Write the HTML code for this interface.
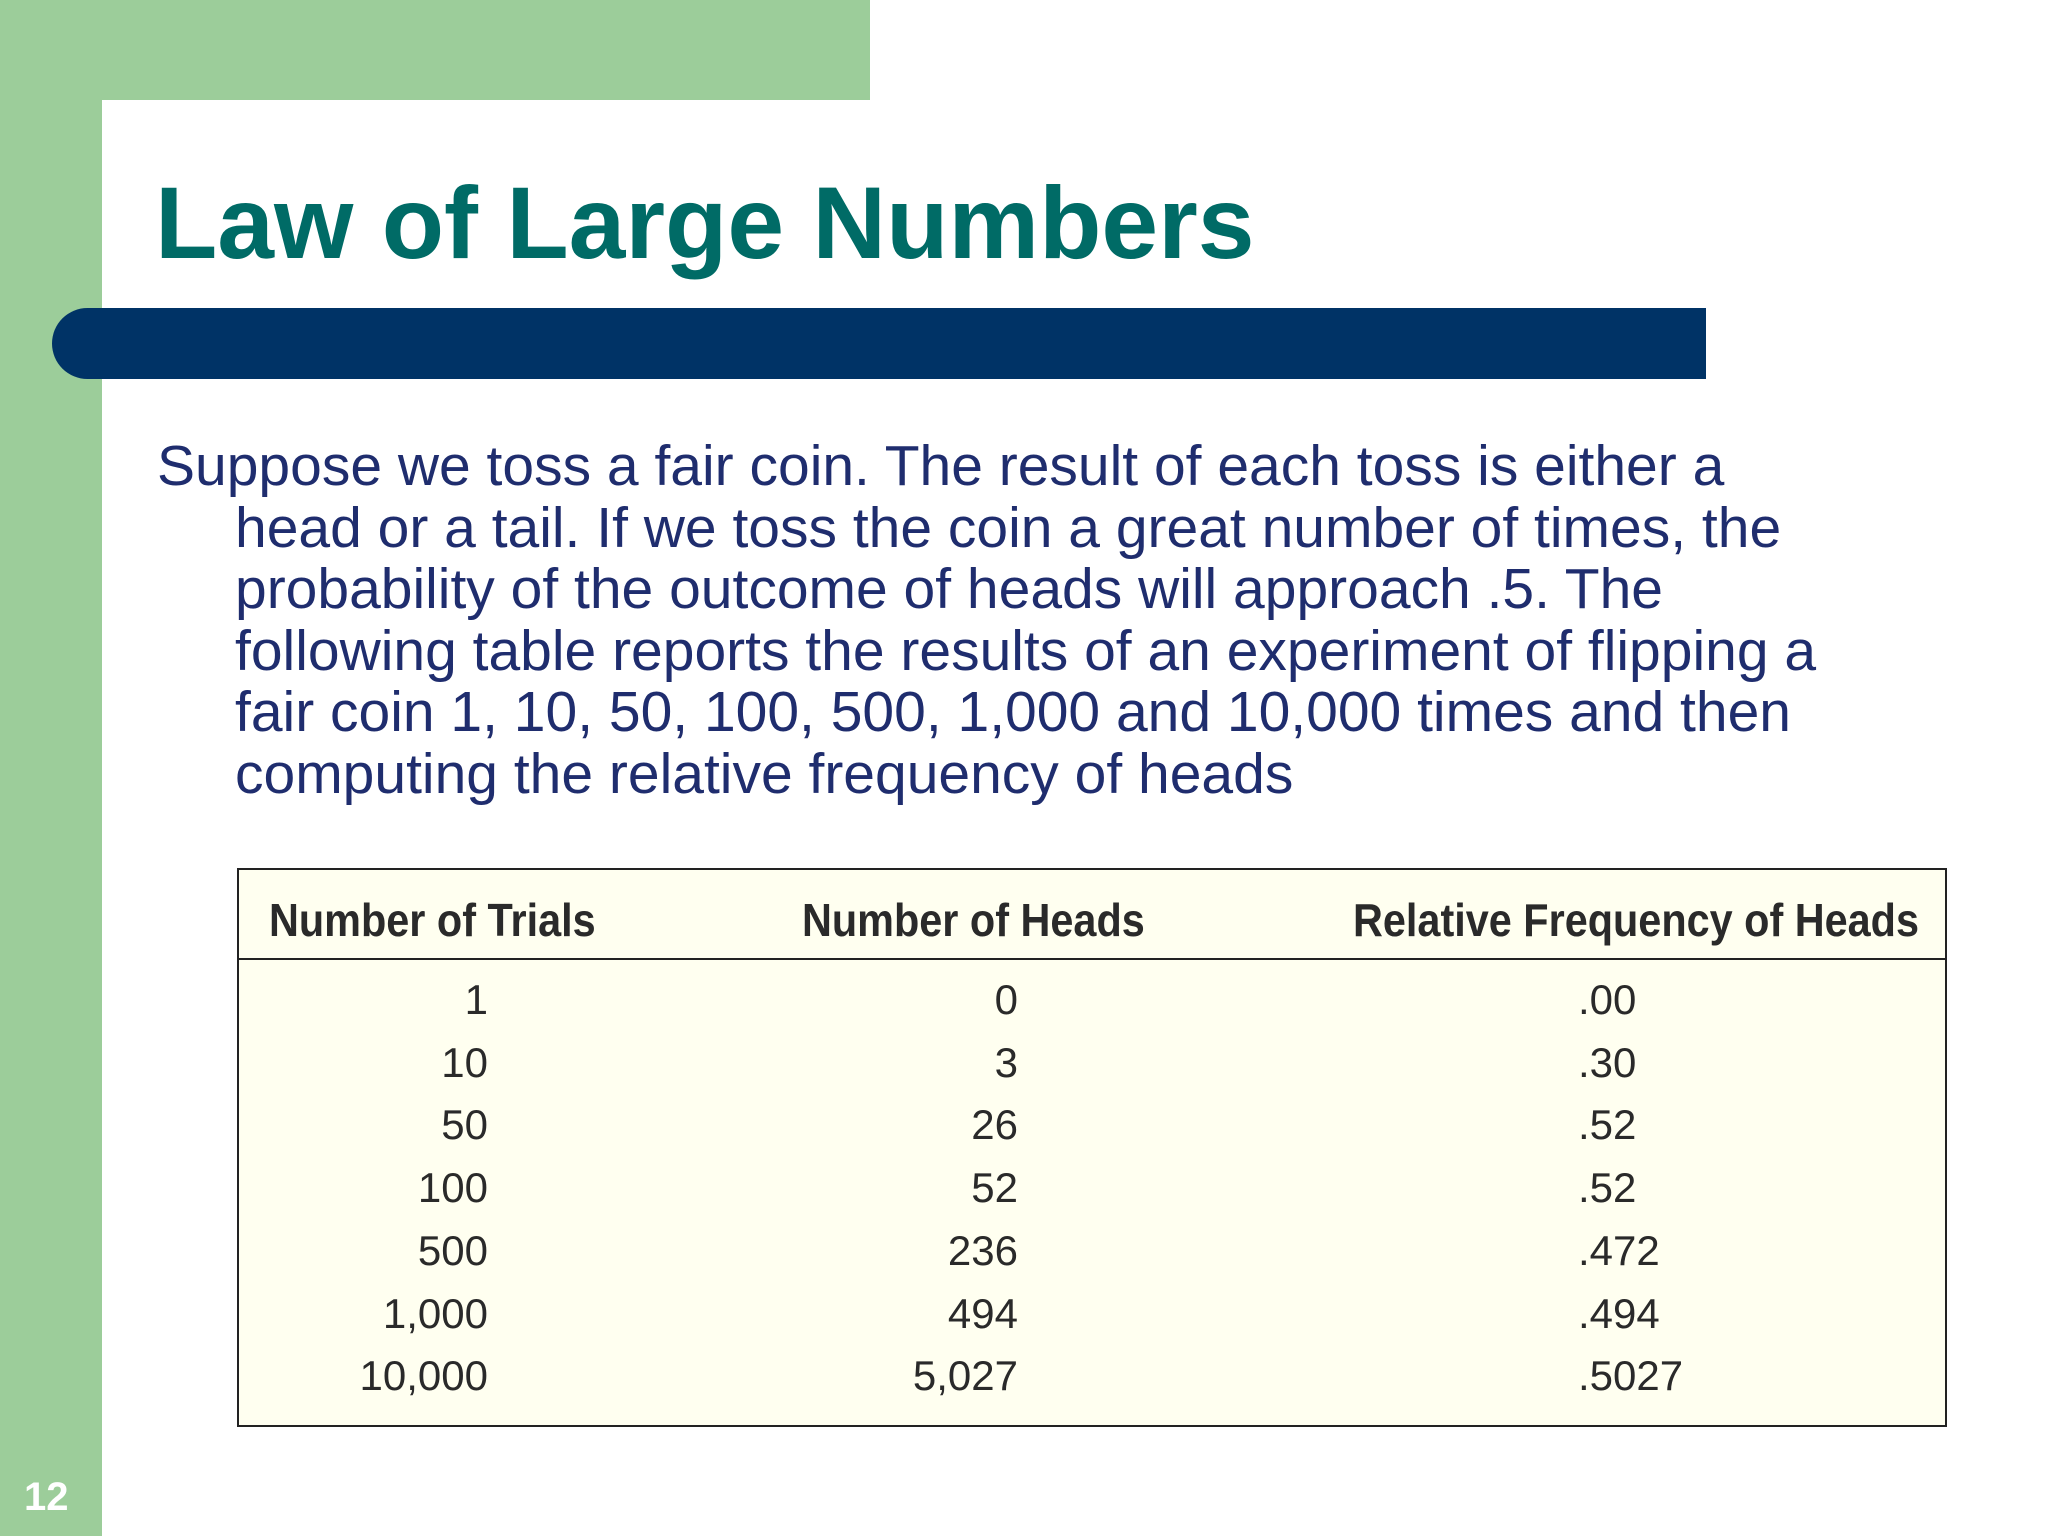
<!DOCTYPE html>
<html><head><meta charset="utf-8"><style>
body{margin:0;width:2048px;height:1536px;position:relative;overflow:hidden;background:#fff;font-family:"Liberation Sans",sans-serif}
.a{position:absolute}
.t{position:absolute;white-space:nowrap;font-family:"Liberation Sans Narrow","Liberation Sans",sans-serif;color:#2a2a2a}
</style></head><body>
<div class="a" style="left:0;top:0;width:102px;height:1536px;background:#9ccd9a"></div>
<div class="a" style="left:0;top:0;width:870px;height:100px;background:#9ccd9a"></div>
<div class="a" style="left:102px;top:100px;width:200px;height:200px;background:#fff;border-top-left-radius:80px 35px"></div>
<div class="a" style="left:155px;top:163px;font-size:102px;font-weight:bold;color:#006b66;line-height:120px;white-space:nowrap">Law of Large Numbers</div>
<div class="a" style="left:52px;top:308px;width:1654px;height:71px;background:#003366;border-radius:36px 0 0 36px"></div>
<div class="a" style="left:157px;top:436px;width:1800px;font-size:57px;line-height:61.5px;color:#1f2d6e">
<div style="white-space:nowrap">Suppose we toss a fair coin. The result of each toss is either a</div>
<div style="padding-left:78px;white-space:nowrap">head or a tail. If we toss the coin a great number of times, the<br>probability of the outcome of heads will approach .5. The<br>following table reports the results of an experiment of flipping a<br>fair coin 1, 10, 50, 100, 500, 1,000 and 10,000 times and then<br>computing the relative frequency of heads</div></div>
<div class="a" style="left:237px;top:868px;width:1706px;height:555px;background:#fffff0;border:2px solid #222"></div>
<div class="a" style="left:239px;top:958px;width:1706px;height:2px;background:#222"></div>
<div class="t" style="left:269px;top:893px;font-size:46px;font-weight:bold;transform:scaleX(.9);transform-origin:left">Number of Trials</div>
<div class="t" style="left:802px;top:893px;font-size:46px;font-weight:bold;transform:scaleX(.9);transform-origin:left">Number of Heads</div>
<div class="t" style="left:1353px;top:893px;font-size:46px;font-weight:bold;transform:scaleX(.9);transform-origin:left">Relative Frequency of Heads</div>
<div id="rows"></div>
<div class="a" style="left:24px;top:1475px;font-size:40px;font-weight:bold;color:#fff">12</div>
<script>
const trials=["1","10","50","100","500","1,000","10,000"];
const heads=["0","3","26","52","236","494","5,027"];
const freqs=[".00",".30",".52",".52",".472",".494",".5027"];
const r=document.getElementById('rows');
for(let i=0;i<trials.length;i++){
 const y=976+i*62.7;
 const a=document.createElement('div');a.className='t';
 
 
 a.style.cssText=`right:${2048-488}px;top:${y}px;font-size:42px`;a.textContent=trials[i];r.appendChild(a);
 const b=document.createElement('div');b.className='t';
 
 
 b.style.cssText=`right:${2048-1018}px;top:${y}px;font-size:42px`;b.textContent=heads[i];r.appendChild(b);
 const c=document.createElement('div');c.className='t';
 
 
 c.style.cssText=`left:1578px;top:${y}px;font-size:42px`;c.textContent=freqs[i];r.appendChild(c);
}
</script>
</body></html>
